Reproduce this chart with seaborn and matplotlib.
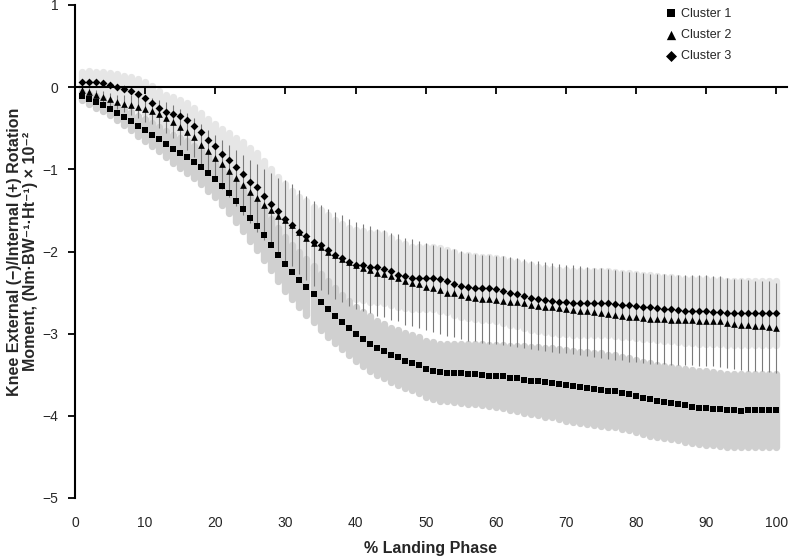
import seaborn as sns
import matplotlib.pyplot as plt
import numpy as np
import pandas as pd

# % of landing phase (1..100)
phase = list(range(1, 101))

# Cluster 1 (squares) mean and SD
c1_mean = [-0.11, -0.14, -0.18, -0.22, -0.26, -0.31, -0.36, -0.415, -0.47, -0.52,
           -0.58, -0.63, -0.69, -0.75, -0.80, -0.85, -0.91, -0.97, -1.045, -1.12,
           -1.20, -1.29, -1.39, -1.48, -1.59, -1.69, -1.80, -1.92, -2.04, -2.15,
           -2.25, -2.345, -2.435, -2.52, -2.61, -2.70, -2.78, -2.86, -2.935, -3.00,
           -3.065, -3.12, -3.17, -3.21, -3.26, -3.29, -3.33, -3.355, -3.38, -3.43,
           -3.45, -3.47, -3.475, -3.48, -3.48, -3.485, -3.49, -3.50, -3.51, -3.515,
           -3.52, -3.535, -3.545, -3.56, -3.57, -3.58, -3.59, -3.60, -3.61, -3.63,
           -3.64, -3.655, -3.665, -3.675, -3.68, -3.695, -3.70, -3.72, -3.735, -3.76,
           -3.78, -3.80, -3.82, -3.83, -3.845, -3.86, -3.87, -3.89, -3.90, -3.905,
           -3.915, -3.92, -3.93, -3.935, -3.94, -3.935, -3.935, -3.935, -3.935, -3.935]
c1_sd = [0.05, 0.06, 0.07, 0.075, 0.08, 0.09, 0.10, 0.11, 0.12, 0.13,
         0.14, 0.15, 0.16, 0.17, 0.18, 0.19, 0.20, 0.21, 0.215, 0.22,
         0.23, 0.24, 0.25, 0.27, 0.28, 0.29, 0.30, 0.31, 0.32, 0.33,
         0.33, 0.335, 0.34, 0.34, 0.34, 0.34, 0.335, 0.33, 0.33, 0.33,
         0.33, 0.33, 0.33, 0.33, 0.33, 0.33, 0.335, 0.335, 0.34, 0.34,
         0.345, 0.35, 0.35, 0.355, 0.36, 0.365, 0.37, 0.37, 0.375, 0.38,
         0.385, 0.39, 0.40, 0.405, 0.41, 0.415, 0.42, 0.42, 0.425, 0.43,
         0.43, 0.435, 0.44, 0.44, 0.44, 0.44, 0.44, 0.44, 0.44, 0.44,
         0.44, 0.44, 0.44, 0.44, 0.44, 0.44, 0.445, 0.445, 0.445, 0.445,
         0.445, 0.445, 0.445, 0.445, 0.445, 0.445, 0.445, 0.445, 0.445, 0.445]

# Cluster 2 (triangles) mean and SD
c2_mean = [-0.04, -0.06, -0.09, -0.12, -0.15, -0.18, -0.20, -0.22, -0.24, -0.27,
           -0.29, -0.33, -0.37, -0.42, -0.48, -0.54, -0.61, -0.70, -0.78, -0.86,
           -0.94, -1.02, -1.11, -1.19, -1.27, -1.35, -1.43, -1.50, -1.57, -1.62,
           -1.68, -1.76, -1.84, -1.90, -1.95, -2.00, -2.045, -2.09, -2.13, -2.17,
           -2.20, -2.22, -2.26, -2.27, -2.30, -2.32, -2.36, -2.38, -2.40, -2.43,
           -2.45, -2.47, -2.50, -2.51, -2.53, -2.55, -2.56, -2.58, -2.58, -2.59,
           -2.60, -2.61, -2.62, -2.63, -2.65, -2.66, -2.67, -2.68, -2.69, -2.70,
           -2.71, -2.72, -2.73, -2.74, -2.75, -2.76, -2.77, -2.78, -2.80, -2.80,
           -2.81, -2.82, -2.82, -2.82, -2.83, -2.83, -2.83, -2.83, -2.84, -2.84,
           -2.845, -2.85, -2.87, -2.88, -2.89, -2.90, -2.91, -2.91, -2.915, -2.93]
c2_sd = [0.04, 0.05, 0.06, 0.07, 0.08, 0.09, 0.10, 0.12, 0.13, 0.15,
         0.16, 0.17, 0.19, 0.20, 0.22, 0.23, 0.24, 0.25, 0.26, 0.28,
         0.30, 0.32, 0.34, 0.36, 0.38, 0.41, 0.43, 0.45, 0.47, 0.49,
         0.50, 0.51, 0.51, 0.52, 0.52, 0.52, 0.53, 0.53, 0.53, 0.53,
         0.53, 0.53, 0.53, 0.53, 0.53, 0.53, 0.53, 0.53, 0.53, 0.53,
         0.53, 0.53, 0.53, 0.535, 0.535, 0.535, 0.535, 0.535, 0.54, 0.54,
         0.54, 0.54, 0.54, 0.54, 0.54, 0.54, 0.54, 0.54, 0.54, 0.54,
         0.54, 0.54, 0.54, 0.54, 0.545, 0.545, 0.545, 0.545, 0.545, 0.545,
         0.545, 0.545, 0.545, 0.545, 0.55, 0.55, 0.55, 0.55, 0.55, 0.55,
         0.55, 0.55, 0.55, 0.55, 0.55, 0.55, 0.55, 0.55, 0.55, 0.55]

# Cluster 3 (diamonds) mean and SD
c3_mean = [0.057, 0.065, 0.057, 0.045, 0.028, 0.008, -0.02, -0.05, -0.08, -0.13,
           -0.19, -0.25, -0.30, -0.325, -0.355, -0.40, -0.47, -0.55, -0.64, -0.72,
           -0.81, -0.89, -0.975, -1.06, -1.15, -1.22, -1.32, -1.42, -1.51, -1.60,
           -1.68, -1.76, -1.81, -1.88, -1.92, -1.98, -2.04, -2.08, -2.13, -2.16,
           -2.17, -2.19, -2.19, -2.21, -2.24, -2.28, -2.30, -2.32, -2.32, -2.32,
           -2.32, -2.34, -2.36, -2.39, -2.42, -2.43, -2.44, -2.45, -2.45, -2.46,
           -2.48, -2.50, -2.52, -2.54, -2.56, -2.58, -2.59, -2.60, -2.61, -2.62,
           -2.63, -2.63, -2.63, -2.63, -2.63, -2.63, -2.64, -2.65, -2.65, -2.66,
           -2.67, -2.68, -2.69, -2.70, -2.70, -2.71, -2.72, -2.72, -2.73, -2.73,
           -2.74, -2.74, -2.75, -2.75, -2.75, -2.75, -2.75, -2.75, -2.75, -2.75]
c3_sd = [0.13, 0.13, 0.13, 0.14, 0.14, 0.15, 0.16, 0.17, 0.18, 0.19,
         0.20, 0.20, 0.20, 0.20, 0.20, 0.21, 0.22, 0.24, 0.25, 0.27,
         0.30, 0.33, 0.36, 0.39, 0.41, 0.42, 0.42, 0.42, 0.42, 0.42,
         0.42, 0.42, 0.42, 0.42, 0.42, 0.42, 0.42, 0.42, 0.42, 0.42,
         0.42, 0.42, 0.42, 0.42, 0.41, 0.40, 0.39, 0.38, 0.38, 0.38,
         0.38, 0.38, 0.38, 0.38, 0.38, 0.385, 0.385, 0.385, 0.385, 0.385,
         0.39, 0.39, 0.39, 0.39, 0.39, 0.39, 0.39, 0.39, 0.39, 0.39,
         0.39, 0.39, 0.39, 0.39, 0.39, 0.39, 0.39, 0.39, 0.39, 0.39,
         0.39, 0.39, 0.39, 0.39, 0.39, 0.39, 0.39, 0.39, 0.39, 0.39,
         0.39, 0.39, 0.39, 0.39, 0.39, 0.39, 0.39, 0.39, 0.39, 0.39]

cluster_names = ['Cluster 1', 'Cluster 2', 'Cluster 3']

df = pd.DataFrame({
    'phase': phase,
    'c1': c1_mean, 'c1_sd': c1_sd,
    'c2': c2_mean, 'c2_sd': c2_sd,
    'c3': c3_mean, 'c3_sd': c3_sd,
})

sns.set_style('ticks')
plt.rcParams['font.family'] = ['Liberation Sans', 'DejaVu Sans']

fig = plt.figure(figsize=(7.9, 5.57), dpi=100)
ax = fig.add_axes([75 / 790, 59 / 557, 712 / 790, 493 / 557])

# SD bands: thick round-capped bars
ax.vlines(df['phase'], df['c3'] - df['c3_sd'], df['c3'] + df['c3_sd'],
          colors='#e6e6e6', linewidth=5.3, capstyle='round', zorder=1)
ax.vlines(df['phase'], df['c1'] - df['c1_sd'], df['c1'] + df['c1_sd'],
          colors='#d0d0d0', linewidth=5.3, capstyle='round', zorder=2)
ax.vlines(df['phase'], df['c2'] - df['c2_sd'], df['c2'] + df['c2_sd'],
          colors='#7a7a7a', linewidth=0.8, zorder=3)

# Means
sns.scatterplot(data=df, x='phase', y='c1', marker='s', s=15, color='black',
                linewidth=0, label=cluster_names[0], ax=ax, zorder=4)
sns.scatterplot(data=df, x='phase', y='c2', marker='^', s=23, color='black',
                linewidth=0, label=cluster_names[1], ax=ax, zorder=5)
sns.scatterplot(data=df, x='phase', y='c3', marker='D', s=16, color='black',
                linewidth=0, label=cluster_names[2], ax=ax, zorder=6)

ax.set_xlim(0, 101.5)
ax.set_ylim(-5, 1)
ax.set_yticks(range(-5, 2))
ax.set_xticks(range(0, 101, 10))

for side in ['top', 'right', 'bottom']:
    ax.spines[side].set_visible(False)
ax.spines['left'].set_linewidth(1.5)
ax.spines['left'].set_color('black')
ax.tick_params(axis='y', length=5, width=1.3, color='black', labelsize=10, pad=7)
ax.tick_params(axis='x', length=0, labelsize=10, pad=13)

# zero line with tick marks
ylo, yhi = ax.get_ylim()
sec = ax.secondary_xaxis((0 - ylo) / (yhi - ylo))
sec.set_alignment('bottom')
sec.set_zorder(3.5)
sec.set_xticks(range(10, 101, 10))
sec.tick_params(axis='x', labelbottom=False, length=5, width=1.3, color='black')
sec.spines['bottom'].set_linewidth(1.5)
sec.spines['bottom'].set_color('black')

ax.set_xlabel('% Landing Phase', fontsize=11.5, fontweight='bold', labelpad=8)
ax.set_ylabel('Knee External (\u2212)/Internal (+) Rotation\n'
              'Moment, (Nm\u00b7BW\u207b\u00b9\u00b7Ht\u207b\u00b9) \u00d7 10\u207b\u00b2',
              fontsize=11.5, fontweight='bold', labelpad=3, linespacing=1.1)

ax.legend(loc='upper left', bbox_to_anchor=(0.82, 1.005), frameon=False,
          fontsize=9, handletextpad=0.2, labelspacing=0.75, borderaxespad=0,
          markerscale=1.4, handlelength=1.2)

fig.savefig('out.png', dpi=100)
